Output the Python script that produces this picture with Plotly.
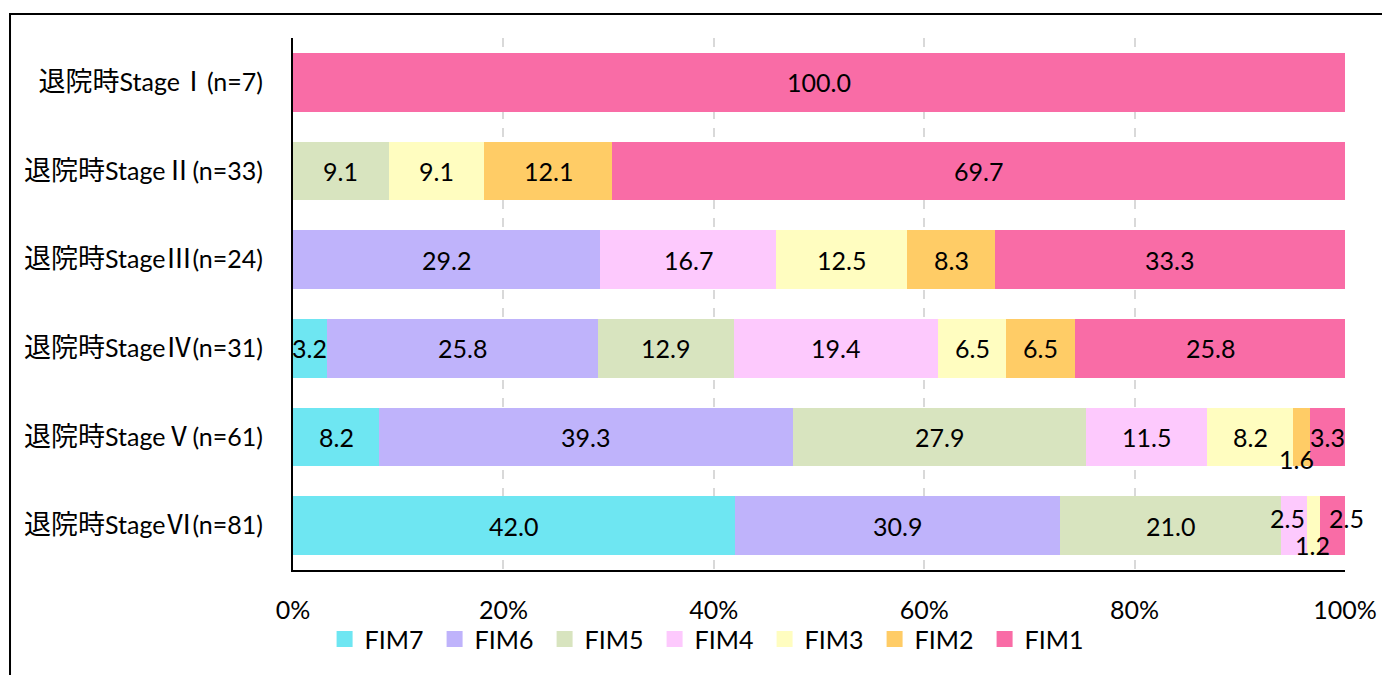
import plotly.graph_objects as go

categories = ["退院時StageⅠ(n=7)", "退院時StageⅡ(n=33)", "退院時StageⅢ(n=24)",
              "退院時StageⅣ(n=31)", "退院時StageⅤ(n=61)", "退院時StageⅥ(n=81)"]
series_names = ["FIM7", "FIM6", "FIM5", "FIM4", "FIM3", "FIM2", "FIM1"]
fim7 = [0, 0, 0, 3.2, 8.2, 42.0]
fim6 = [0, 0, 29.2, 25.8, 39.3, 30.9]
fim5 = [0, 9.1, 0, 12.9, 27.9, 21.0]
fim4 = [0, 0, 16.7, 19.4, 11.5, 2.5]
fim3 = [0, 9.1, 12.5, 6.5, 8.2, 1.2]
fim2 = [0, 12.1, 8.3, 6.5, 1.6, 0]
fim1 = [100.0, 69.7, 33.3, 25.8, 3.3, 2.5]
x_ticks = [0, 20, 40, 60, 80, 100]
x_tick_labels = ["0%", "20%", "40%", "60%", "80%", "100%"]

values = [fim7, fim6, fim5, fim4, fim3, fim2, fim1]
colors = ["#6EE6F2", "#BFB3FB", "#D8E4BF", "#FDC9FD", "#FFFDC0", "#FFCC66", "#F96CA6"]

# label offsets (px) mimicking the spreadsheet's overlap avoidance
label_shift = {(4, "FIM2"): (-5, -22), (5, "FIM4"): (-6, 8),
               (5, "FIM3"): (-1, -19), (5, "FIM1"): (14, 8)}

FONT = "Lato, 'Noto Sans CJK JP', sans-serif"
CJK = "Noto Sans CJK JP"
SIZE = 25


def fmt_label(s):
    out = ""
    for ch in s:
        if ord(ch) > 0x2000:
            out += f"<span style=\"font-family:'{CJK}';font-size:27px\">{ch}</span>"
        else:
            out += ch
    return out


fig = go.Figure()
for name, vals, col in zip(series_names, values, colors):
    fig.add_trace(go.Bar(y=categories, x=vals, name=name, orientation="h",
                         marker=dict(color=col, line=dict(width=0)),
                         showlegend=False, hoverinfo="x+y+name"))
# legend entries with larger square swatches
for name, col in zip(series_names, colors):
    fig.add_trace(go.Scatter(x=[None], y=[None], mode="markers", name=name,
                             marker=dict(symbol="square", size=17, color=col),
                             showlegend=True))

annotations = []
cum = [0.0] * len(categories)
for name, vals in zip(series_names, values):
    for i, v in enumerate(vals):
        if v > 0:
            dx, dy = label_shift.get((i, name), (0, 0))
            annotations.append(dict(x=cum[i] + v / 2, y=categories[i], xref="x", yref="y",
                                    text=f"{v:.1f}", showarrow=False, xshift=dx, yshift=dy,
                                    font=dict(family=FONT, size=SIZE, color="#000000")))
        cum[i] += v

fig.update_layout(
    width=1390, height=675,
    barmode="stack", bargap=0.34,
    plot_bgcolor="white", paper_bgcolor="white",
    margin=dict(l=285, r=53, t=30, b=113),
    font=dict(family=FONT, size=SIZE, color="#000000"),
    legend=dict(orientation="h", x=0.396, xanchor="center", y=-0.13, yanchor="middle",
                bgcolor="rgba(0,0,0,0)",
                font=dict(family=FONT, size=SIZE, color="#000000"),
                entrywidth=65, itemsizing="trace", traceorder="normal"),
    annotations=annotations,
    shapes=[dict(type="rect", xref="paper", yref="paper", x0=-0.269, x1=1.06,
                 y0=-0.25, y1=1.045, line=dict(color="#000000", width=2),
                 fillcolor="rgba(0,0,0,0)", layer="below")],
)
fig.update_xaxes(range=[0, 100], tickvals=x_ticks, ticktext=x_tick_labels,
                 showgrid=True, gridcolor="#D9D9D9", griddash="dash", gridwidth=1.5,
                 showline=True, linecolor="#000000", linewidth=2,
                 zeroline=False, ticks="", ticklabelstandoff=17,
                 tickfont=dict(family=FONT, size=SIZE, color="#000000"))
fig.update_yaxes(autorange="reversed", showline=True, linecolor="#000000", linewidth=2,
                 showgrid=False, ticks="", ticklabelstandoff=23,
                 tickmode="array", tickvals=categories,
                 ticktext=[fmt_label(c) for c in categories],
                 tickfont=dict(family=FONT, size=SIZE, color="#000000"))

fig.write_html("out.html")
